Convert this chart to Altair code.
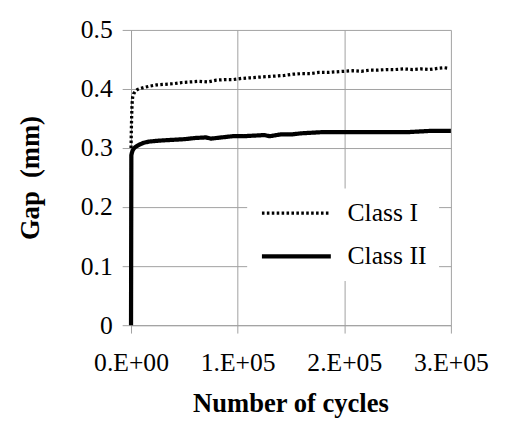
import altair as alt
import pandas as pd

series = ["Class I", "Class II"]

class1_x = [0, 300, 600, 1000, 1500, 2500, 4000, 6000, 9000, 13000, 18000, 24000, 32000,
            40000, 48000, 56000, 64000, 72000, 80000, 88000, 96000, 104000, 112000, 120000,
            128000, 136000, 144000, 152000, 160000, 168000, 176000, 184000, 192000, 200000,
            208000, 216000, 224000, 232000, 240000, 248000, 256000, 264000, 272000, 280000,
            288000, 294000, 298000]
class1_y = [0.300, 0.330, 0.355, 0.375, 0.386, 0.392, 0.396, 0.399, 0.401, 0.403, 0.405, 0.407, 0.408,
            0.409, 0.411, 0.412, 0.413, 0.412, 0.415, 0.416, 0.416, 0.418, 0.419, 0.420,
            0.421, 0.422, 0.423, 0.425, 0.426, 0.426, 0.428, 0.428, 0.429, 0.430,
            0.431, 0.430, 0.432, 0.432, 0.433, 0.433, 0.434, 0.433, 0.434, 0.433,
            0.435, 0.436, 0.435]

class2_x = [0, 300, 800, 1500, 3000, 5000, 8000, 12000, 17000, 23000, 30000, 40000, 50000,
            60000, 70000, 75000, 85000, 95000, 105000, 115000, 125000, 130000, 140000,
            150000, 160000, 170000, 180000, 200000, 220000, 240000, 260000, 270000, 280000,
            290000, 300000]
class2_y = [0.000, 0.288, 0.292, 0.296, 0.300, 0.303, 0.306, 0.309, 0.311, 0.312, 0.313, 0.314, 0.315,
            0.317, 0.318, 0.316, 0.318, 0.320, 0.320, 0.321, 0.322, 0.320, 0.323,
            0.323, 0.325, 0.326, 0.327, 0.327, 0.327, 0.327, 0.327, 0.328, 0.329,
            0.329, 0.329]

x_ticks = [0, 100000, 200000, 300000]
x_tick_labels = ["0.E+00", "1.E+05", "2.E+05", "3.E+05"]
y_ticks = [0, 0.1, 0.2, 0.3, 0.4, 0.5]
y_tick_labels = ["0", "0.1", "0.2", "0.3", "0.4", "0.5"]


def label_expr(values, labels):
    expr = "''"
    for v, lab in reversed(list(zip(values, labels))):
        expr = f"abs(datum.value - {v}) < 1e-6 ? '{lab}' : ({expr})"
    return expr


df = pd.concat([
    pd.DataFrame({"cycles": class1_x, "gap": class1_y, "series": series[0]}),
    pd.DataFrame({"cycles": class2_x, "gap": class2_y, "series": series[1]}),
], ignore_index=True)
df["order"] = range(len(df))

FONT = "Liberation Serif"
GRID = "#a0a0a0"

legend = alt.Legend(
    title=None, orient="none", legendX=118, legendY=161,
    fillColor="white", padding=12, rowPadding=18,
    symbolType="M-1,0H6", symbolSize=400, symbolStrokeColor="black",
    labelOffset=64, labelFont=FONT, labelFontSize=26, labelColor="black",
)

chart = alt.Chart(df).mark_line(color="black", strokeCap="butt", strokeJoin="round").encode(
    x=alt.X("cycles:Q",
            scale=alt.Scale(domain=[0, 300000], nice=False, zero=True),
            axis=alt.Axis(values=x_ticks, labelExpr=label_expr(x_ticks, x_tick_labels),
                          labelFlush=False, labelOverlap=False,
                          title="Number of cycles", titleX=162, titleY=88,
                          titleBaseline="alphabetic",
                          labelPadding=17, tickSize=8)),
    y=alt.Y("gap:Q",
            scale=alt.Scale(domain=[0, 0.5], nice=False),
            axis=alt.Axis(values=y_ticks, labelExpr=label_expr(y_ticks, y_tick_labels),
                          labelFlush=False, labelOverlap=False,
                          title="Gap\u00a0 (mm)", titlePadding=36,
                          labelPadding=10, tickSize=9)),
    strokeDash=alt.StrokeDash(
        "series:N",
        scale=alt.Scale(domain=series, range=[[2.6, 2.4], [1, 0]]),
        legend=legend),
    strokeWidth=alt.StrokeWidth("series:N",
                                scale=alt.Scale(domain=series, range=[3.3, 4.3]),
                                legend=legend),
    order="order:Q",
).properties(
    width=325, height=300,
    autosize=alt.AutoSizeParams(type="none"),
    padding={"left": 125, "top": 19, "right": 57, "bottom": 92},
).configure_view(
    stroke=None
).configure_axis(
    gridColor=GRID, gridWidth=1, domainColor=GRID, tickColor=GRID, domainWidth=1,
    labelFont=FONT, labelFontSize=26, labelColor="black",
    titleFont=FONT, titleFontSize=27, titleFontWeight="bold", titleColor="black",
)

chart.save("out.html", embed_options={"renderer": "svg", "actions": False})
